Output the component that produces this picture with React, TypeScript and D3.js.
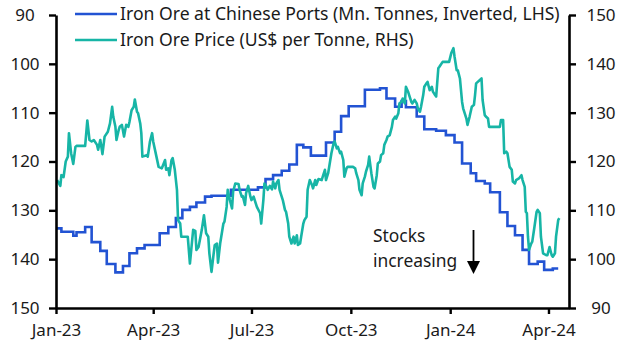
import { useEffect, useRef } from "react";
import * as d3 from "d3";

// Iron ore stocks at Chinese ports (Mn. tonnes), plotted inverted on the left axis
const stockSeries: [string, number][] = [
    ["2023-01-01", 133.7], ["2023-01-06", 134.4], ["2023-01-17", 135.2], ["2023-01-20", 134.5],
    ["2023-01-28", 133.4], ["2023-02-03", 136.5], ["2023-02-11", 138.3], ["2023-02-17", 141.0],
    ["2023-02-25", 142.7], ["2023-03-04", 141.4], ["2023-03-10", 138.8], ["2023-03-17", 137.8],
    ["2023-03-24", 137.1], ["2023-04-07", 134.7], ["2023-04-15", 133.4], ["2023-04-22", 131.6],
    ["2023-04-28", 129.9], ["2023-05-05", 129.3], ["2023-05-11", 128.4], ["2023-05-19", 127.2],
    ["2023-05-25", 127.0], ["2023-06-12", 125.8], ["2023-07-07", 125.3], ["2023-07-14", 123.6],
    ["2023-07-21", 122.8], ["2023-07-29", 121.9], ["2023-08-05", 120.6], ["2023-08-12", 116.6],
    ["2023-08-18", 117.1], ["2023-08-25", 118.8], ["2023-09-08", 116.1], ["2023-09-16", 113.9],
    ["2023-09-22", 110.7], ["2023-09-29", 108.7], ["2023-10-14", 105.3], ["2023-10-28", 105.0],
    ["2023-11-03", 107.1], ["2023-11-11", 108.8], ["2023-11-17", 107.6], ["2023-11-21", 108.9],
    ["2023-12-01", 110.8], ["2023-12-08", 113.4], ["2023-12-19", 113.7], ["2023-12-28", 114.6],
    ["2024-01-05", 116.1], ["2024-01-12", 120.4], ["2024-01-20", 122.4], ["2024-01-25", 124.0],
    ["2024-02-02", 124.5], ["2024-02-07", 126.3], ["2024-02-16", 130.4], ["2024-02-23", 133.2],
    ["2024-03-01", 135.1], ["2024-03-08", 138.1], ["2024-03-14", 141.0], ["2024-03-22", 140.5],
    ["2024-03-28", 142.2], ["2024-04-05", 141.9], ["2024-04-10", 141.9],
];

// Iron ore price (US$ per tonne), right axis
const priceSeries: [string, number][] = [
    ["2023-01-02", 116.2], ["2023-01-05", 115.0], ["2023-01-06", 117.2], ["2023-01-08", 116.8],
    ["2023-01-10", 120.0], ["2023-01-12", 121.0], ["2023-01-13", 125.8], ["2023-01-15", 121.7],
    ["2023-01-17", 119.5], ["2023-01-19", 123.0], ["2023-01-20", 123.2], ["2023-01-28", 123.2],
    ["2023-01-30", 128.4], ["2023-02-01", 124.4], ["2023-02-03", 124.1], ["2023-02-05", 124.4],
    ["2023-02-08", 123.4], ["2023-02-09", 122.4], ["2023-02-11", 124.4], ["2023-02-12", 123.0],
    ["2023-02-13", 121.5], ["2023-02-15", 125.1], ["2023-02-18", 126.1], ["2023-02-20", 127.8],
    ["2023-02-22", 131.2], ["2023-02-23", 129.2], ["2023-02-25", 127.1], ["2023-02-26", 124.4],
    ["2023-02-28", 126.4], ["2023-03-01", 127.1], ["2023-03-03", 127.5], ["2023-03-05", 125.1],
    ["2023-03-07", 127.5], ["2023-03-09", 127.1], ["2023-03-10", 128.1], ["2023-03-12", 130.5],
    ["2023-03-14", 131.2], ["2023-03-15", 132.7], ["2023-03-17", 130.2], ["2023-03-18", 129.9],
    ["2023-03-20", 127.8], ["2023-03-21", 125.8], ["2023-03-22", 121.0], ["2023-03-26", 121.3],
    ["2023-03-27", 121.0], ["2023-03-29", 124.1], ["2023-03-31", 125.8], ["2023-04-01", 124.1],
    ["2023-04-04", 121.0], ["2023-04-06", 118.9], ["2023-04-09", 118.6], ["2023-04-12", 120.3],
    ["2023-04-13", 118.3], ["2023-04-15", 118.6], ["2023-04-16", 117.2], ["2023-04-18", 120.3],
    ["2023-04-19", 120.7], ["2023-04-21", 118.3], ["2023-04-23", 114.2], ["2023-04-24", 108.0],
    ["2023-04-26", 107.3], ["2023-04-27", 104.6], ["2023-05-03", 104.6], ["2023-05-05", 99.1],
    ["2023-05-08", 106.0], ["2023-05-10", 105.8], ["2023-05-11", 101.9], ["2023-05-13", 102.5],
    ["2023-05-16", 106.0], ["2023-05-18", 109.0], ["2023-05-20", 105.3], ["2023-05-22", 104.6],
    ["2023-05-23", 101.2], ["2023-05-25", 97.4], ["2023-05-27", 101.2], ["2023-05-28", 102.9],
    ["2023-05-30", 103.2], ["2023-05-31", 99.3], ["2023-06-02", 103.2], ["2023-06-05", 107.3],
    ["2023-06-06", 107.7], ["2023-06-08", 110.7], ["2023-06-09", 114.2], ["2023-06-11", 112.1],
    ["2023-06-13", 110.4], ["2023-06-14", 113.8], ["2023-06-16", 115.5], ["2023-06-19", 115.4],
    ["2023-06-20", 114.2], ["2023-06-22", 112.8], ["2023-06-23", 112.9], ["2023-06-25", 111.1],
    ["2023-06-26", 113.5], ["2023-06-28", 115.0], ["2023-06-30", 112.8], ["2023-07-01", 112.1],
    ["2023-07-03", 112.8], ["2023-07-04", 112.1], ["2023-07-06", 110.7], ["2023-07-09", 109.4],
    ["2023-07-10", 107.3], ["2023-07-12", 112.1], ["2023-07-13", 115.5], ["2023-07-15", 114.8],
    ["2023-07-16", 114.2], ["2023-07-18", 115.0], ["2023-07-20", 114.3], ["2023-07-21", 115.9],
    ["2023-07-23", 114.5], ["2023-07-24", 115.5], ["2023-07-26", 116.2], ["2023-07-27", 114.2],
    ["2023-07-30", 112.1], ["2023-08-01", 110.1], ["2023-08-02", 109.7], ["2023-08-04", 107.3],
    ["2023-08-05", 104.6], ["2023-08-07", 103.2], ["2023-08-09", 104.6], ["2023-08-10", 103.2],
    ["2023-08-12", 104.9], ["2023-08-13", 102.9], ["2023-08-15", 103.2], ["2023-08-16", 104.6],
    ["2023-08-18", 107.3], ["2023-08-19", 108.0], ["2023-08-21", 108.7], ["2023-08-22", 114.2],
    ["2023-08-24", 116.2], ["2023-08-26", 115.2], ["2023-08-27", 114.5], ["2023-08-29", 116.2],
    ["2023-08-30", 115.2], ["2023-09-01", 116.4], ["2023-09-04", 116.2], ["2023-09-05", 116.9],
    ["2023-09-07", 118.3], ["2023-09-08", 116.2], ["2023-09-10", 117.6], ["2023-09-13", 121.7],
    ["2023-09-15", 123.7], ["2023-09-16", 124.1], ["2023-09-18", 122.7], ["2023-09-19", 123.0],
    ["2023-09-21", 121.7], ["2023-09-22", 122.0], ["2023-09-24", 120.3], ["2023-09-25", 116.9],
    ["2023-09-27", 118.6], ["2023-09-28", 118.9], ["2023-10-03", 118.9], ["2023-10-05", 118.6],
    ["2023-10-06", 117.6], ["2023-10-08", 116.2], ["2023-10-09", 114.2], ["2023-10-11", 113.1],
    ["2023-10-12", 115.5], ["2023-10-14", 116.9], ["2023-10-15", 117.9], ["2023-10-17", 119.3],
    ["2023-10-18", 121.0], ["2023-10-20", 117.6], ["2023-10-22", 114.8], ["2023-10-23", 114.5],
    ["2023-10-25", 117.2], ["2023-10-26", 119.6], ["2023-10-28", 120.0], ["2023-10-29", 121.3],
    ["2023-10-31", 121.7], ["2023-11-01", 123.4], ["2023-11-03", 124.4], ["2023-11-04", 125.1],
    ["2023-11-06", 125.4], ["2023-11-08", 127.1], ["2023-11-09", 128.5], ["2023-11-11", 129.2],
    ["2023-11-12", 128.8], ["2023-11-14", 129.9], ["2023-11-15", 131.9], ["2023-11-17", 132.2],
    ["2023-11-18", 132.9], ["2023-11-20", 131.9], ["2023-11-21", 135.3], ["2023-11-23", 134.3],
    ["2023-11-24", 133.6], ["2023-11-26", 132.2], ["2023-11-27", 131.9], ["2023-11-29", 132.6],
    ["2023-12-01", 131.9], ["2023-12-02", 130.9], ["2023-12-04", 130.2], ["2023-12-05", 131.2],
    ["2023-12-07", 133.6], ["2023-12-08", 135.3], ["2023-12-10", 136.0], ["2023-12-11", 136.3],
    ["2023-12-13", 134.6], ["2023-12-15", 135.3], ["2023-12-16", 134.3], ["2023-12-18", 133.6],
    ["2023-12-19", 133.3], ["2023-12-21", 139.1], ["2023-12-22", 139.4], ["2023-12-25", 140.4],
    ["2023-12-31", 140.4], ["2024-01-02", 142.2], ["2024-01-04", 143.2], ["2024-01-05", 141.5],
    ["2024-01-07", 138.7], ["2024-01-08", 138.7], ["2024-01-10", 137.0], ["2024-01-11", 134.6],
    ["2024-01-12", 132.2], ["2024-01-13", 130.9], ["2024-01-16", 128.8], ["2024-01-17", 127.5],
    ["2024-01-19", 129.2], ["2024-01-21", 131.2], ["2024-01-23", 131.6], ["2024-01-24", 133.6],
    ["2024-01-25", 136.0], ["2024-01-30", 137.0], ["2024-01-31", 132.6], ["2024-02-02", 129.5],
    ["2024-02-03", 129.2], ["2024-02-05", 128.8], ["2024-02-06", 127.1], ["2024-02-16", 127.1],
    ["2024-02-17", 128.5], ["2024-02-19", 128.5], ["2024-02-20", 121.7], ["2024-02-22", 122.0],
    ["2024-02-23", 121.7], ["2024-02-25", 118.9], ["2024-02-27", 118.3], ["2024-02-28", 115.9],
    ["2024-03-01", 115.5], ["2024-03-02", 116.2], ["2024-03-05", 116.6], ["2024-03-07", 117.2],
    ["2024-03-08", 116.2], ["2024-03-10", 114.8], ["2024-03-11", 109.7], ["2024-03-12", 109.4],
    ["2024-03-13", 104.6], ["2024-03-14", 101.9], ["2024-03-16", 103.2], ["2024-03-17", 103.6],
    ["2024-03-19", 106.6], ["2024-03-21", 109.7], ["2024-03-22", 110.1], ["2024-03-24", 109.4],
    ["2024-03-25", 104.6], ["2024-03-27", 101.2], ["2024-03-30", 100.8], ["2024-03-31", 100.8],
    ["2024-04-02", 102.5], ["2024-04-04", 100.8], ["2024-04-05", 100.5], ["2024-04-07", 101.2],
    ["2024-04-08", 104.6], ["2024-04-10", 108.0], ["2024-04-11", 108.4],
];

const tickDates = ["2023-01-01", "2023-04-01", "2023-07-01", "2023-10-01", "2024-01-01", "2024-04-01"];
const tickLabels = ["Jan-23", "Apr-23", "Jul-23", "Oct-23", "Jan-24", "Apr-24"];
const leftTicks = [90, 100, 110, 120, 130, 140, 150];
const rightTicks = [90, 100, 110, 120, 130, 140, 150];
const legendLabels = [
    "Iron Ore at Chinese Ports (Mn. Tonnes, Inverted, LHS)",
    "Iron Ore Price (US$ per Tonne, RHS)",
];
const annotationLines = ["Stocks", "increasing"];

const BLUE = "#2253d3";
const TEAL = "#17b5a6";
const FONT = "'Noto Sans', sans-serif";

export default function App() {
    const svgRef = useRef<SVGSVGElement | null>(null);

    useEffect(() => {
        if (!svgRef.current) return;
        const svg = d3.select(svgRef.current);
        svg.selectAll("*").remove();

        const width = 628;
        const height = 353;
        const left = 56;
        const right = 569;
        const top = 15;
        const bottom = 308;

        const parse = d3.timeParse("%Y-%m-%d");

        const x = d3
            .scaleTime()
            .domain([parse("2023-01-01")!, parse("2024-04-20")!])
            .range([left, right]);
        const yLeft = d3.scaleLinear().domain([90, 150]).range([top, bottom]);
        const yRight = d3.scaleLinear().domain([90, 150]).range([bottom, top]);

        svg.attr("width", width).attr("height", height);

        // Stocks line (stepped weekly data)
        const stockLine = d3
            .line<[string, number]>()
            .x((d) => x(parse(d[0])!))
            .y((d) => yLeft(d[1]))
            .curve(d3.curveStepAfter);

        svg.append("path")
            .datum(stockSeries)
            .attr("d", stockLine)
            .attr("fill", "none")
            .attr("stroke", BLUE)
            .attr("stroke-width", 2.6);

        // Price line
        const priceLine = d3
            .line<[string, number]>()
            .x((d) => x(parse(d[0])!))
            .y((d) => yRight(d[1]));

        svg.append("path")
            .datum(priceSeries)
            .attr("d", priceLine)
            .attr("fill", "none")
            .attr("stroke", TEAL)
            .attr("stroke-width", 2.6)
            .attr("stroke-linejoin", "round");

        // Axes
        const axisStyle = (g: d3.Selection<SVGGElement, unknown, null, undefined>) => {
            g.select(".domain").attr("stroke", "#000").attr("stroke-width", 2.6);
            g.selectAll(".tick line").attr("stroke", "#000").attr("stroke-width", 2.4);
            g.selectAll(".tick text")
                .attr("fill", "#1a1a1a")
                .attr("font-family", FONT)
                .attr("font-size", "17px");
        };

        const gLeft = svg
            .append("g")
            .attr("transform", `translate(${left},0)`)
            .call(d3.axisLeft(yLeft).tickValues(leftTicks).tickSize(7).tickSizeOuter(0).tickPadding(8));
        axisStyle(gLeft);
        gLeft.selectAll(".tick text").attr("text-anchor", "middle").attr("x", -31);

        const gRight = svg
            .append("g")
            .attr("transform", `translate(${right},0)`)
            .call(d3.axisRight(yRight).tickValues(rightTicks).tickSize(7).tickSizeOuter(0).tickPadding(8));
        axisStyle(gRight);
        gRight.selectAll(".tick text").attr("text-anchor", "middle").attr("x", 32);

        const gBottom = svg
            .append("g")
            .attr("transform", `translate(0,${bottom})`)
            .call(
                d3
                    .axisBottom(x)
                    .tickValues(tickDates.map((d) => parse(d)!))
                    .tickFormat((_, i) => tickLabels[i])
                    .tickSize(6)
                    .tickSizeOuter(0)
                    .tickPadding(10)
            );
        axisStyle(gBottom);

        // Legend
        const legend = svg.append("g");
        legendLabels.forEach((label, i) => {
            const ly = 14 + i * 26;
            legend
                .append("line")
                .attr("x1", 75)
                .attr("x2", 117)
                .attr("y1", ly)
                .attr("y2", ly)
                .attr("stroke", i === 0 ? BLUE : TEAL)
                .attr("stroke-width", 2.6);
            legend
                .append("text")
                .attr("x", 120)
                .attr("y", ly + 6)
                .attr("font-family", FONT)
                .attr("font-size", "17.6px")
                .attr("fill", "#1a1a1a")
                .text(label);
        });

        // Annotation
        annotationLines.forEach((t, i) => {
            svg.append("text")
                .attr("x", 373)
                .attr("y", 242 + i * 25)
                .attr("font-family", FONT)
                .attr("font-size", "17.4px")
                .attr("fill", "#1a1a1a")
                .text(t);
        });

        svg.append("line")
            .attr("x1", 473.5)
            .attr("x2", 473.5)
            .attr("y1", 230)
            .attr("y2", 262)
            .attr("stroke", "#000")
            .attr("stroke-width", 1.8);
        svg.append("path")
            .attr("d", "M467,261 L480,261 L473.5,274 Z")
            .attr("fill", "#000");
    }, []);

    return (
        <svg
            ref={svgRef}
            width={628}
            height={353}
            style={{ position: "absolute", left: 0, top: 0, background: "#fff" }}
        />
    );
}
